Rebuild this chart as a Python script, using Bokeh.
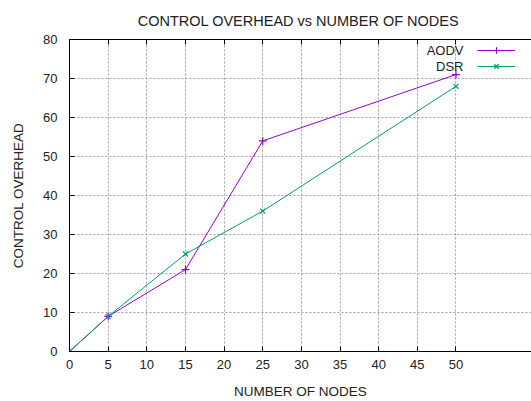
from bokeh.plotting import figure
from bokeh.models import (ColumnDataSource, FixedTicker, LinearAxis, Range1d, Grid,
                          Legend, LegendItem, Label, Title, CustomJSTickFormatter)
from bokeh.core.properties import value
from bokeh.embed import file_html
from bokeh.resources import INLINE

# Control overhead measured for each network size
nodes = [0, 5, 15, 25, 50]
aodv = [0, 9, 21, 54, 71]
dsr = [0, 9, 25, 36, 68]

x_ticks = [0, 5, 10, 15, 20, 25, 30, 35, 40, 45, 50]
y_ticks = [0, 10, 20, 30, 40, 50, 60, 70, 80]

FONT = "Liberation Sans"
TEXT = "#222222"
AODV_COLOR = "#9400D3"
DSR_COLOR = "#009E73"

p = figure(width=531, height=401, output_backend="svg", toolbar_location=None,
           x_range=Range1d(0, 59.77), y_range=Range1d(0, 80),
           min_border_left=69, min_border_right=0, min_border_top=39,
           min_border_bottom=49, x_axis_type=None, y_axis_type=None)
p.outline_line_color = None
p.background_fill_color = "white"
p.border_fill_color = "white"

def style_axis(ax):
    ax.axis_line_color = "black"
    ax.axis_line_width = 1
    ax.major_tick_in = 5
    ax.major_tick_out = 0
    ax.minor_tick_line_color = None
    ax.major_tick_line_color = "black"
    ax.major_label_text_font = FONT
    ax.major_label_text_font_size = "13px"
    ax.major_label_text_color = TEXT
    ax.axis_label_text_font = FONT
    ax.axis_label_text_font_size = "13.5px"
    ax.axis_label_text_font_style = "normal"
    ax.axis_label_text_color = TEXT

# mirrored tick marks along the top border, without labels
top = LinearAxis(ticker=FixedTicker(ticks=x_ticks),
                 formatter=CustomJSTickFormatter(code="return ''"))
style_axis(top)
top.major_label_standoff = 0
top.major_label_text_font_size = "1px"
p.add_layout(top, "above")

p.add_layout(Title(text="CONTROL OVERHEAD vs  NUMBER OF NODES", align="center",
                   text_font=FONT, text_font_size="14.5px", text_font_style="normal",
                   text_line_height=0.9, text_color=TEXT, standoff=21), "above")

xax = LinearAxis(ticker=FixedTicker(ticks=x_ticks), axis_label="NUMBER OF NODES")
style_axis(xax)
xax.major_label_standoff = 8
xax.axis_label_standoff = 12
p.add_layout(xax, "below")

yax = LinearAxis(ticker=FixedTicker(ticks=y_ticks), axis_label="CONTROL OVERHEAD")
style_axis(yax)
yax.major_label_standoff = 12
yax.axis_label_standoff = 14
p.add_layout(yax, "left")

for dim, ticks in ((0, x_ticks), (1, y_ticks)):
    p.add_layout(Grid(dimension=dim, ticker=FixedTicker(ticks=ticks),
                      grid_line_color="#a0a0a0", grid_line_dash="2 2",
                      grid_line_width=1))

src = ColumnDataSource(dict(nodes=nodes, aodv=aodv, dsr=dsr))

l1 = p.line("nodes", "aodv", source=src, color=AODV_COLOR, line_width=1)
m1 = p.scatter("nodes", "aodv", source=src, marker="cross", size=8,
               line_color=AODV_COLOR, line_width=1.2)
l2 = p.line("nodes", "dsr", source=src, color=DSR_COLOR, line_width=1)
m2 = p.scatter("nodes", "dsr", source=src, marker="x", size=7,
               line_color=DSR_COLOR, line_width=1.2)

# key: text on the left, sample on the right
legend = Legend(items=[LegendItem(label=value(""), renderers=[l1, m1]),
                       LegendItem(label=value(""), renderers=[l2, m2])],
                location=(408, 277), orientation="vertical",
                glyph_width=38, glyph_height=16, label_height=16,
                label_width=0, label_standoff=0, spacing=0, padding=0,
                margin=0, border_line_color=None, background_fill_alpha=0,
                label_text_font_size="8px")
p.add_layout(legend, "center")

for name, ypos in (("AODV", 301), ("DSR", 285)):
    p.add_layout(Label(x=394, y=ypos, x_units="screen", y_units="screen",
                       text=name, text_align="right", text_baseline="middle",
                       text_font=FONT, text_font_size="13px", text_color=TEXT))

open("out.html", "w").write(file_html(p, INLINE))
